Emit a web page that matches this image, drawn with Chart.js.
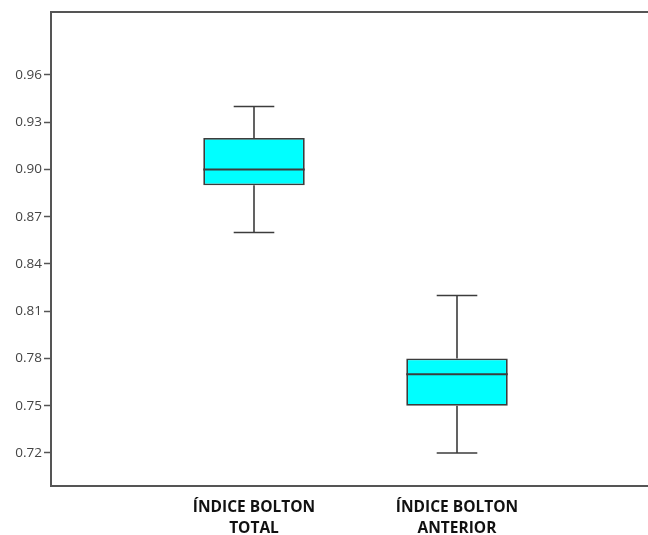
<!DOCTYPE html>
<html>
<head>
<meta charset="utf-8">
<script src="https://cdn.jsdelivr.net/npm/chart.js@4/dist/chart.umd.min.js"></script>
<style>
  html, body { margin: 0; padding: 0; background: #fff; overflow: hidden; }
  #wrap { width: 670px; height: 535px; }
</style>
</head>
<body>
<div id="wrap"><canvas id="box"></canvas></div>
<script>
// box plot values
const categories = [['ÍNDICE BOLTON', 'TOTAL'], ['ÍNDICE BOLTON', 'ANTERIOR']];
const whiskerMin = [0.86, 0.72];
const q1 = [0.89, 0.75];
const median = [0.90, 0.77];
const q3 = [0.92, 0.78];
const whiskerMax = [0.94, 0.82];
const yTicks = [0.72, 0.75, 0.78, 0.81, 0.84, 0.87, 0.90, 0.93, 0.96];

const lineColor = '#3c3c3c';

// empty slots at both ends so the boxes sit at 1/3 and 2/3 of the frame
const labels = ['', ...categories, ''];
const boxes = [null, ...q1.map((v, i) => [v, q3[i]]), null];

const whiskers = {
	id: 'whiskers',
	afterDatasetsDraw(chart) {
		const ctx = chart.ctx;
		const x = chart.scales.x;
		const y = chart.scales.y;
		const bars = chart.getDatasetMeta(0).data;
		ctx.save();
		ctx.strokeStyle = lineColor;
		ctx.lineWidth = 1.6;
		categories.forEach((c, i) => {
			const cx = x.getPixelForValue(i + 1);
			const w = bars[i + 1].width;
			const cap = w * 0.2;
			ctx.beginPath();
			// whiskers
			ctx.moveTo(cx, y.getPixelForValue(q3[i]));
			ctx.lineTo(cx, y.getPixelForValue(whiskerMax[i]));
			ctx.moveTo(cx - cap, y.getPixelForValue(whiskerMax[i]));
			ctx.lineTo(cx + cap, y.getPixelForValue(whiskerMax[i]));
			ctx.moveTo(cx, y.getPixelForValue(q1[i]));
			ctx.lineTo(cx, y.getPixelForValue(whiskerMin[i]));
			ctx.moveTo(cx - cap, y.getPixelForValue(whiskerMin[i]));
			ctx.lineTo(cx + cap, y.getPixelForValue(whiskerMin[i]));
			ctx.stroke();
			// median
			ctx.beginPath();
			ctx.lineWidth = 2;
			ctx.moveTo(cx - w / 2, y.getPixelForValue(median[i]));
			ctx.lineTo(cx + w / 2, y.getPixelForValue(median[i]));
			ctx.stroke();
			ctx.lineWidth = 1.6;
		});
		// frame top line
		const a = chart.chartArea;
		ctx.strokeStyle = '#555';
		ctx.lineWidth = 2;
		ctx.beginPath();
		ctx.moveTo(a.left, a.top);
		ctx.lineTo(a.right, a.top);
		ctx.lineTo(a.right, a.bottom);
		ctx.stroke();
		ctx.restore();
	}
};

new Chart(document.getElementById('box'), {
	type: 'bar',
	data: {
		labels: labels,
		datasets: [{
			data: boxes,
			backgroundColor: '#00ffff',
			borderColor: lineColor,
			borderWidth: 1.8,
			borderSkipped: false,
			barPercentage: 0.5,
			categoryPercentage: 1
		}]
	},
	options: {
		responsive: true,
		maintainAspectRatio: false,
		animation: false,
		layout: { padding: { top: 12, right: 10, left: 0, bottom: 0 } },
		plugins: { legend: { display: false }, tooltip: { enabled: false } },
		scales: {
			x: {
				offset: false,
				grid: { display: false },
				border: { display: true, color: '#555', width: 2 },
				ticks: {
					padding: 4,
					color: '#111',
					autoSkip: false,
					maxRotation: 0,
					font: { family: 'Open Sans', size: 15.5, weight: 'bold', lineHeight: 1.3 }
				},
				afterFit: s => { s.height = 49; }
			},
			y: {
				min: 0.699,
				max: 1.0,
				afterBuildTicks: s => { s.ticks = yTicks.map(v => ({ value: v })); },
				grid: { drawOnChartArea: false, tickLength: 7, tickWidth: 1.5, color: '#555' },
				border: { display: true, color: '#555', width: 2 },
				ticks: {
					padding: 2,
					color: '#444',
					font: { family: 'Open Sans', size: 13.5 },
					callback: v => v.toFixed(2)
				},
				afterFit: s => { s.width = 51; }
			}
		}
	},
	plugins: [whiskers]
});
</script>
</body>
</html>
